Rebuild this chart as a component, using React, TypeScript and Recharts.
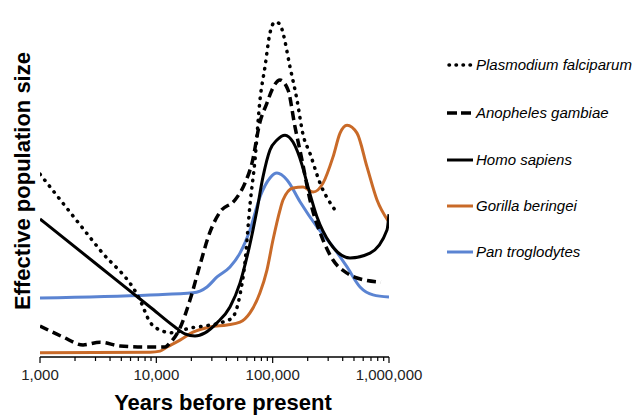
import React from "react";
import { LineChart, Line, XAxis, YAxis, Legend } from "recharts";

const xTicks = [
  1000, 2000, 3000, 4000, 5000, 6000, 7000, 8000, 9000,
  10000, 20000, 30000, 40000, 50000, 60000, 70000, 80000, 90000,
  100000, 200000, 300000, 400000, 500000, 600000, 700000, 800000, 900000,
  1000000,
];
const majorTicks = [1000, 10000, 100000, 1000000];

const plasmodium = [
  { x: 1000, y: 53.0 }, { x: 3282, y: 31.0 }, { x: 7244, y: 16.5 }, { x: 8832, y: 10.1 },
  { x: 10770, y: 7.8 }, { x: 13650, y: 7.0 }, { x: 19460, y: 8.4 }, { x: 26190, y: 9.0 },
  { x: 35240, y: 9.9 }, { x: 44670, y: 11.3 }, { x: 52350, y: 18.0 }, { x: 57810, y: 27.5 },
  { x: 63810, y: 44.1 }, { x: 70470, y: 57.1 }, { x: 77780, y: 74.5 }, { x: 85900, y: 84.1 },
  { x: 94800, y: 93.9 }, { x: 104700, y: 97.1 }, { x: 115600, y: 96.5 }, { x: 122700, y: 93.9 },
  { x: 140900, y: 84.1 }, { x: 161900, y: 74.5 }, { x: 182300, y: 64.5 }, { x: 209400, y: 59.0 },
  { x: 255300, y: 50.4 }, { x: 343600, y: 42.6 },
];

const anopheles = [
  { x: 1000, y: 9.0 }, { x: 1578, y: 5.8 }, { x: 2344, y: 3.5 }, { x: 3282, y: 4.3 },
  { x: 4874, y: 3.2 }, { x: 8000, y: 2.9 }, { x: 11890, y: 2.9 }, { x: 13120, y: 4.1 },
  { x: 15970, y: 8.4 }, { x: 19460, y: 16.5 }, { x: 23720, y: 26.7 }, { x: 28910, y: 36.2 },
  { x: 35240, y: 42.0 }, { x: 47420, y: 45.5 }, { x: 57810, y: 50.4 }, { x: 66390, y: 56.2 },
  { x: 77780, y: 68.1 }, { x: 89290, y: 73.6 }, { x: 98600, y: 77.4 }, { x: 115600, y: 80.3 },
  { x: 135500, y: 77.4 }, { x: 155600, y: 66.7 }, { x: 178700, y: 57.1 }, { x: 209400, y: 45.5 },
  { x: 271000, y: 33.9 }, { x: 330300, y: 28.1 }, { x: 435700, y: 24.3 }, { x: 531000, y: 22.9 },
  { x: 853000, y: 21.7 },
];

const homo = [
  { x: 1000, y: 40.0 }, { x: 3282, y: 26.1 }, { x: 8832, y: 14.5 }, { x: 14450, y: 8.7 },
  { x: 17630, y: 6.7 }, { x: 21490, y: 6.1 }, { x: 26190, y: 7.0 }, { x: 33240, y: 9.9 },
  { x: 42960, y: 14.5 }, { x: 52350, y: 21.4 }, { x: 60140, y: 29.0 }, { x: 73280, y: 42.6 },
  { x: 82550, y: 52.2 }, { x: 94800, y: 60.0 }, { x: 108900, y: 62.9 }, { x: 127700, y: 64.3 },
  { x: 149600, y: 62.3 }, { x: 178700, y: 55.7 }, { x: 197200, y: 50.4 }, { x: 240500, y: 40.6 },
  { x: 311200, y: 33.0 }, { x: 462200, y: 28.7 }, { x: 687000, y: 30.1 }, { x: 961000, y: 36.8 },
  { x: 1000000, y: 41.4 },
];

const gorilla = [
  { x: 1000, y: 1.2 }, { x: 8832, y: 1.4 }, { x: 10770, y: 1.7 }, { x: 12370, y: 2.9 },
  { x: 15970, y: 4.9 }, { x: 20650, y: 7.2 }, { x: 28910, y: 8.7 }, { x: 40480, y: 9.3 },
  { x: 52350, y: 10.1 }, { x: 63810, y: 12.8 }, { x: 77780, y: 18.6 }, { x: 89290, y: 25.2 },
  { x: 100600, y: 33.9 }, { x: 115600, y: 42.6 }, { x: 122700, y: 45.5 }, { x: 149600, y: 49.0 },
  { x: 182300, y: 49.3 }, { x: 222300, y: 47.8 }, { x: 271000, y: 50.4 }, { x: 330300, y: 58.0 },
  { x: 379400, y: 64.9 }, { x: 435700, y: 67.2 }, { x: 531000, y: 64.9 }, { x: 647000, y: 55.1 },
  { x: 789000, y: 45.5 }, { x: 1000000, y: 39.1 },
];

const pan = [
  { x: 1000, y: 17.1 }, { x: 8832, y: 18.0 }, { x: 20650, y: 18.6 }, { x: 23720, y: 19.1 },
  { x: 27270, y: 20.3 }, { x: 33240, y: 23.2 }, { x: 42960, y: 26.1 }, { x: 52350, y: 30.1 },
  { x: 63810, y: 36.8 }, { x: 77780, y: 46.4 }, { x: 94800, y: 51.9 }, { x: 108900, y: 53.3 },
  { x: 132900, y: 51.3 }, { x: 171800, y: 45.0 }, { x: 240500, y: 37.7 }, { x: 330300, y: 31.9 },
  { x: 435700, y: 26.1 }, { x: 563600, y: 20.3 }, { x: 729000, y: 18.0 }, { x: 1000000, y: 17.4 },
];

const seriesNames = [
  "Plasmodium falciparum",
  "Anopheles gambiae",
  "Homo sapiens",
  "Gorilla beringei",
  "Pan troglodytes",
];

const ORANGE = "#C96A28";
const BLUE = "#5B84D2";
const FONT = "'Liberation Sans', Arial, sans-serif";

const legendStyles = [
  { stroke: "#000", dash: "0.5 6.5", cap: "round" as const, w: 3.5 },
  { stroke: "#000", dash: "10 4", cap: "butt" as const, w: 3.5 },
  { stroke: "#000", dash: undefined, cap: "butt" as const, w: 3 },
  { stroke: ORANGE, dash: undefined, cap: "butt" as const, w: 3 },
  { stroke: BLUE, dash: undefined, cap: "butt" as const, w: 3 },
];
const legendRowY = [25, 73, 120, 166, 212];

const fmt = (v: number) => v.toLocaleString("en-US");

const XTick = (props: any) => {
  const { x, y, payload } = props;
  const major = majorTicks.includes(payload.value);
  return (
    <g>
      <line x1={x} x2={x} y1={y} y2={y + (major ? 6 : 4)} stroke="#000" strokeWidth={1.2} />
      {major && (
        <text x={x} y={y + 23} textAnchor="middle" fontSize={15} fill="#222" fontFamily={FONT}>
          {fmt(payload.value)}
        </text>
      )}
    </g>
  );
};

const LegendContent = () => (
  <svg width={195} height={240}>
    {seriesNames.map((name, i) => {
      const s = legendStyles[i];
      return (
        <g key={name}>
          <line
            x1={i === 0 ? 9 : 7}
            x2={33}
            y1={legendRowY[i]}
            y2={legendRowY[i]}
            stroke={s.stroke}
            strokeWidth={s.w}
            strokeDasharray={s.dash}
            strokeLinecap={s.cap}
          />
          <text
            x={36}
            y={legendRowY[i]}
            dy="0.36em"
            fontSize={15}
            fontStyle="italic"
            fontFamily={FONT}
            fill="#000"
          >
            {name}
          </text>
        </g>
      );
    })}
  </svg>
);

export default function App() {
  return (
    <div style={{ position: "absolute", left: 0, top: 0 }}>
      <LineChart
        width={635}
        height={416}
        margin={{ top: 12, right: 246, bottom: 0, left: 40 }}
      >
        <XAxis
          dataKey="x"
          type="number"
          scale="log"
          domain={[1000, 1000000]}
          ticks={xTicks}
          interval={0}
          allowDataOverflow
          height={59}
          tickSize={0}
          tickMargin={0}
          tickLine={false}
          tick={<XTick />}
          axisLine={{ stroke: "#000", strokeWidth: 1.5 }}
        />
        <YAxis
          type="number"
          domain={[0, 100]}
          width={0}
          tick={false}
          tickLine={false}
          axisLine={{ stroke: "#000", strokeWidth: 1.5 }}
        />
        <Legend
          layout="horizontal"
          verticalAlign="middle"
          align="center"
          content={<LegendContent />}
          wrapperStyle={{ left: 440, top: 40, width: 195, height: 240 }}
        />
        <Line data={pan} dataKey="y" name={seriesNames[4]} type="monotone" stroke={BLUE} strokeWidth={3} dot={false} isAnimationActive={false} legendType="none" />
        <Line data={gorilla} dataKey="y" name={seriesNames[3]} type="monotone" stroke={ORANGE} strokeWidth={3} dot={false} isAnimationActive={false} legendType="none" />
        <Line data={homo} dataKey="y" name={seriesNames[2]} type="monotone" stroke="#000" strokeWidth={3} dot={false} isAnimationActive={false} legendType="none" />
        <Line data={anopheles} dataKey="y" name={seriesNames[1]} type="monotone" stroke="#000" strokeWidth={3.5} strokeDasharray="9 5" dot={false} isAnimationActive={false} legendType="none" />
        <Line data={plasmodium} dataKey="y" name={seriesNames[0]} type="monotone" stroke="#000" strokeWidth={3.5} strokeDasharray="0.5 7" strokeLinecap="round" dot={false} isAnimationActive={false} legendType="none" />
        <text x={223} y={410} textAnchor="middle" fontSize={22} fontWeight="bold" fontFamily={FONT} fill="#000">
          Years before present
        </text>
        <text x={30} y={181} textAnchor="middle" fontSize={22} fontWeight="bold" fontFamily={FONT} fill="#000" transform="rotate(-90 30 181)">
          Effective population size
        </text>
      </LineChart>
    </div>
  );
}
